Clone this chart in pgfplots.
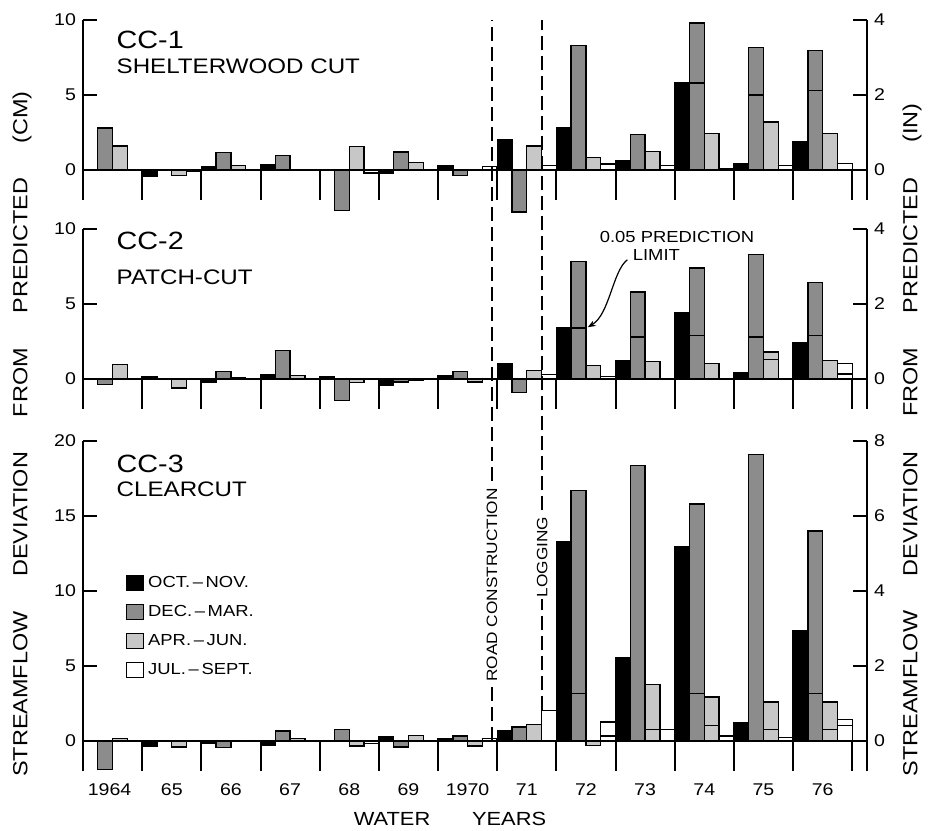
\documentclass[border=0pt]{standalone}
\usepackage{fontspec}
\setmainfont[FakeStretch=1.15]{Liberation Sans}
\usepackage{pgfplots}
\pgfplotsset{compat=1.18}
\usepackage{pgfplotstable}
\usetikzlibrary{arrows.meta}

% streamflow deviation from predicted, cm; on=Oct-Nov, dm=Dec-Mar, aj=Apr-Jun, js=Jul-Sept
\pgfplotstableread{
yr   on    dm    aj    js
1964 0     2.8   1.6   0
1965 -0.4  0     -0.35 -0.1
1966 0.25  1.15  0.3   0.05
1967 0.35  0.95  0     0
1968 -0.05 -2.7  1.55  -0.2
1969 -0.2  1.2   0.5   0
1970 0.3   -0.35 0     0.25
1971 2.0   -2.8  1.6   0.3
1972 2.8   8.3   0.85  0.4
1973 0.6   2.35  1.25  0.3
1974 5.8   9.8   2.45  0.1
1975 0.45  8.15  3.2   0.3
1976 1.9   7.95  2.45  0.45
}\ccone
\pgfplotstableread{
yr   on    dm    aj    js
1964 0     -0.38 0.95  0
1965 0.15  0     -0.6  0
1966 -0.2  0.5   0.1   0
1967 0.3   1.9   0.25  0
1968 0.15  -1.45 -0.25 0
1969 -0.45 -0.2  -0.1  0
1970 0.2   0.5   -0.2  0
1971 1.0   -0.9  0.55  0.3
1972 3.4   7.85  0.9   0.15
1973 1.2   5.8   1.15  0
1974 4.45  7.4   1.05  0
1975 0.45  8.3   1.8   0
1976 2.4   6.45  1.25  1.05
}\cctwo
\pgfplotstableread{
yr   on    dm    aj    js
1964 0     -1.9  0.15  0
1965 -0.33 0     -0.4  0
1966 -0.15 -0.45 0     0
1967 -0.27 0.67  0.16  0
1968 0     0.78  -0.33 -0.18
1969 0.27  -0.4  0.38  0
1970 0.18  0.33  -0.33 0.16
1971 0.67  0.93  1.1   2.04
1972 13.3  16.7  -0.3  1.27
1973 5.55  18.35 3.78  0.78
1974 12.95 15.8  2.93  0.33
1975 1.22  19.1  2.6   0.22
1976 7.35  14.0  2.6   1.44
}\ccthree
% 0.05 prediction limits (s = season index 0..3)
\pgfplotstableread{
yr   s lim
1974 1 5.8
1975 1 5.0
1976 1 5.3
}\limone
\pgfplotstableread{
yr   s lim
1972 1 3.4
1973 1 2.8
1974 1 2.9
1975 1 2.8
1976 1 2.9
1975 2 1.3
1976 3 0.33
}\limtwo
\pgfplotstableread{
yr   s lim
1972 1 3.16
1972 3 0.33
1973 2 0.78
1974 1 3.16
1974 2 1.04
1975 2 0.78
1976 1 3.16
1976 2 0.78
1976 3 1.04
}\limthree

\pgfplotsset{
  panel/.style={scale only axis, width=392pt, xmin=0, xmax=13.25,
    anchor=north west, axis y line*=left,
    tick align=inside, major tick length=7pt,
    every tick/.style={black, line width=1pt},
    axis line style={line width=1.1pt},
    yticklabel style={font=\fontsize{8.5}{10}\selectfont},
    /pgf/number format/assume math mode=true, clip=false},
  rpanel/.style={panel, axis y line*=right, axis x line=none},
  bar/.style={ybar, bar width=0.25, bar shift=0pt, draw=black, line width=0.7pt,
    legend image code/.code={\draw[##1,/tikz/.cd,line width=0.6pt] (0pt,-3.75pt) rectangle (8.5pt,3.75pt);}},
  sep/.style={ycomb, black, line width=1pt, mark=none, forget plot},
  zero/.style={black, line width=1pt, mark=none, forget plot},
  lim/.style={only marks, mark=-, mark size=3.7pt, mark options={line width=0.6pt, black}, forget plot},
}
\colorlet{dmfill}{black!45}
\colorlet{ajfill}{black!22}
\newcommand{\bigf}{\fontsize{12.5}{14}\selectfont}
\newcommand{\midf}{\fontsize{10.5}{12}\selectfont}
\newcommand{\smf}{\fontsize{8}{9}\selectfont}

\begin{document}
\begin{tikzpicture}
\path[use as bounding box] (-41.5pt,0pt) rectangle (423pt,-415pt);

% ---- CC-1
\begin{axis}[panel, axis x line=none, at={(0pt,-10pt)}, height=90pt, ymin=-2, ymax=10, ytick={0,5,10}]
\addplot[sep] coordinates {(1,-2) (2,-2) (3,-2) (4,-2) (5,-2) (6,-2) (7,-2) (8,-2) (9,-2) (10,-2) (11,-2) (12,-2) (13,-2)};
\addplot[zero] coordinates {(0,0) (13.25,0)};
\addplot[bar, fill=black] table[x expr=\thisrow{yr}-1963.875, y=on] {\ccone};
\addplot[bar, fill=dmfill] table[x expr=\thisrow{yr}-1963.625, y=dm] {\ccone};
\addplot[bar, fill=ajfill] table[x expr=\thisrow{yr}-1963.375, y=aj] {\ccone};
\addplot[bar, fill=white] table[x expr=\thisrow{yr}-1963.125, y=js] {\ccone};
\addplot[lim] table[x expr=\thisrow{yr}-1963.875+0.25*\thisrow{s}, y=lim] {\limone};
\node[anchor=west, font=\bigf] at (axis cs:0.45,8.65) {CC-1};
\node[anchor=west, font=\midf] at (axis cs:0.45,6.9) {SHELTERWOOD CUT};
\end{axis}
\begin{axis}[rpanel, at={(0pt,-10pt)}, height=90pt, ymin=-0.8, ymax=4, ytick={0,2,4}]
\end{axis}

% ---- CC-2
\begin{axis}[panel, axis x line=none, at={(0pt,-114.5pt)}, height=90pt, ymin=-2, ymax=10, ytick={0,5,10}]
\addplot[sep] coordinates {(1,-2) (2,-2) (3,-2) (4,-2) (5,-2) (6,-2) (7,-2) (8,-2) (9,-2) (10,-2) (11,-2) (12,-2) (13,-2)};
\addplot[zero] coordinates {(0,0) (13.25,0)};
\addplot[bar, fill=black] table[x expr=\thisrow{yr}-1963.875, y=on] {\cctwo};
\addplot[bar, fill=dmfill] table[x expr=\thisrow{yr}-1963.625, y=dm] {\cctwo};
\addplot[bar, fill=ajfill] table[x expr=\thisrow{yr}-1963.375, y=aj] {\cctwo};
\addplot[bar, fill=white] table[x expr=\thisrow{yr}-1963.125, y=js] {\cctwo};
\addplot[lim] table[x expr=\thisrow{yr}-1963.875+0.25*\thisrow{s}, y=lim] {\limtwo};
\node[anchor=west, font=\bigf] at (axis cs:0.45,9.2) {CC-2};
\node[anchor=west, font=\midf] at (axis cs:0.45,6.75) {PATCH-CUT};
\node[font=\smf] at (axis cs:10.04,9.5) {0.05 PREDICTION};
\node[font=\smf] at (axis cs:9.69,8.25) {LIMIT};
\draw[line width=0.6pt, -{Stealth[length=4pt,width=3pt]}] (axis cs:9.2,7.95) .. controls (axis cs:8.95,7.2) and (axis cs:8.9,4.3) .. (axis cs:8.53,3.45);
\end{axis}
\begin{axis}[rpanel, at={(0pt,-114.5pt)}, height=90pt, ymin=-0.8, ymax=4, ytick={0,2,4}]
\end{axis}

% ---- CC-3
\begin{axis}[panel, at={(0pt,-220.5pt)}, height=165pt, ymin=-2, ymax=20, ytick={0,5,10,15,20},
  axis x line*=bottom, x axis line style={draw=none}, xtick style={draw=none},
  xtick={0.45,1.5,2.5,3.5,4.5,5.5,6.5,7.5,8.5,9.5,10.5,11.5,12.5},
  xticklabels={1964,65,66,67,68,69,1970,71,72,73,74,75,76},
  xticklabel style={font=\fontsize{8.5}{10}\selectfont, yshift=-3pt},
  legend style={at={(axis cs:0.72,11.3)}, anchor=north west, draw=none, fill=none,
    font=\smf, row sep=3.5pt, inner sep=0pt},
  legend cell align=left]
\addplot[sep] coordinates {(1,-2) (2,-2) (3,-2) (4,-2) (5,-2) (6,-2) (7,-2) (8,-2) (9,-2) (10,-2) (11,-2) (12,-2) (13,-2)};
\addplot[zero] coordinates {(0,0) (13.25,0)};
\addplot[bar, fill=black] table[x expr=\thisrow{yr}-1963.875, y=on] {\ccthree};
\addlegendentry{OCT.\,--\,NOV.}
\addplot[bar, fill=dmfill] table[x expr=\thisrow{yr}-1963.625, y=dm] {\ccthree};
\addlegendentry{DEC.\,--\,MAR.}
\addplot[bar, fill=ajfill] table[x expr=\thisrow{yr}-1963.375, y=aj] {\ccthree};
\addlegendentry{APR.\,--\,JUN.}
\addplot[bar, fill=white] table[x expr=\thisrow{yr}-1963.125, y=js] {\ccthree};
\addlegendentry{JUL.\,--\,SEPT.}
\addplot[lim] table[x expr=\thisrow{yr}-1963.875+0.25*\thisrow{s}, y=lim] {\limthree};
\addplot[forget plot, black, line width=0.9pt, dash pattern=on 7pt off 3pt] coordinates {(6.91,0) (6.91,48.1)};
\addplot[forget plot, black, line width=0.9pt, dash pattern=on 7pt off 3pt] coordinates {(7.76,2.04) (7.76,48.1)};
\node[rotate=90, fill=white, inner sep=1pt, font=\fontsize{7.5}{9}\selectfont] at (axis cs:6.91,10.4) {ROAD CONSTRUCTION};
\node[rotate=90, fill=white, inner sep=1pt, font=\fontsize{7.5}{9}\selectfont] at (axis cs:7.76,12.27) {LOGGING};
\node[anchor=west, font=\bigf] at (axis cs:0.45,18.45) {CC-3};
\node[anchor=west, font=\midf] at (axis cs:0.45,16.75) {CLEARCUT};
\end{axis}
\begin{axis}[rpanel, at={(0pt,-220.5pt)}, height=165pt, ymin=-0.8, ymax=8, ytick={0,2,4,6,8}]
\end{axis}

% shared labels
\node[rotate=90, font=\fontsize{10.2}{12}\selectfont] at (-30.5pt,-217pt)
  {STREAMFLOW\hspace{1.7em}DEVIATION\hspace{1.7em}FROM\hspace{1.7em}PREDICTED\hspace{1.7em}(CM)};
\node[rotate=90, font=\fontsize{10.2}{12}\selectfont] at (414.5pt,-220pt)
  {STREAMFLOW\hspace{1.7em}DEVIATION\hspace{1.7em}FROM\hspace{1.7em}PREDICTED\hspace{1.7em}(IN)};
\node[font=\fontsize{9.5}{11}\selectfont] at (183.5pt,-409.5pt) {WATER\hspace{2.2em}YEARS};
\end{tikzpicture}
\end{document}
